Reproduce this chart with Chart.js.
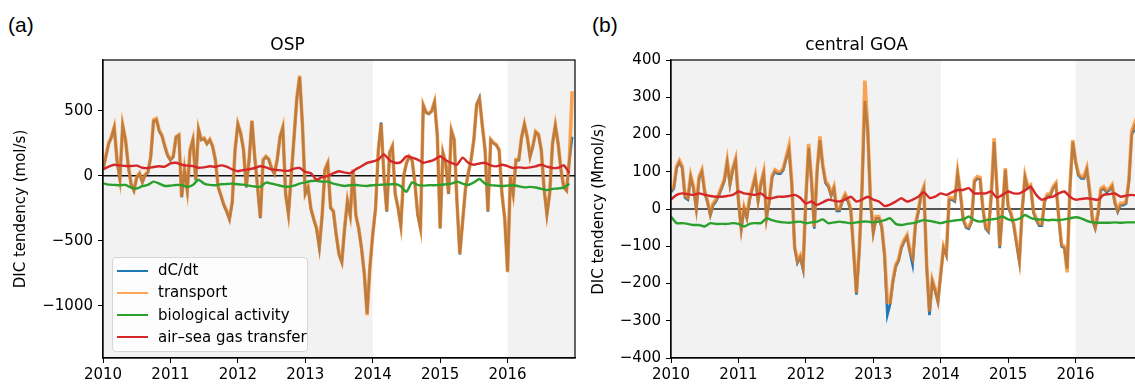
<!DOCTYPE html>
<html>
<head>
    <title>DIC tendency</title>
    <style>
        body {
            margin: 0;
            width: 1135px;
            height: 385px;
            overflow: hidden;
            position: relative;
            background: #fff;
            font-family: "DejaVu Sans", sans-serif;
        }

        canvas {
            position: absolute;
            top: 0;
        }

        .tag {
            position: absolute;
            top: 13px;
            font-family: "Liberation Sans", Arial, sans-serif;
            font-size: 21px;
            color: #000;
        }

        .legend {
            position: absolute;
            left: 112px;
            top: 257px;
            width: 194px;
            height: 93px;
            background: rgba(255, 255, 255, 0.8);
            border: 1px solid #d6d6d6;
            border-radius: 4px;
            font-size: 15px;
            color: #000;
        }

        .legend div {
            position: absolute;
            left: 4px;
            height: 22px;
            line-height: 22px;
            white-space: nowrap;
        }

        .legend span {
            display: inline-block;
            width: 31px;
            height: 2px;
            margin-right: 10px;
            vertical-align: middle;
        }
    </style>
    <script src="https://cdn.jsdelivr.net/npm/chart.js"></script>
</head>
<body>
    <div class="tag" style="left: 8px;">(a)</div>
    <div class="tag" style="left: 592px;">(b)</div>
    <canvas id="chartA" width="580" height="385" style="left: 0px;"></canvas>
    <canvas id="chartB" width="580" height="385" style="left: 570px;"></canvas>
    <div class="legend" id="legend"></div>

    <script>
        // time axis: transport / dC/dt sampled twice a month, red/green monthly
        const startYear = 2010;
        const fastPerYear = 24;
        const slowPerYear = 12;
        const xTicks = [2010, 2011, 2012, 2013, 2014, 2015, 2016];
        const shadeSpans = [[2010, 2014], [2016, 2017]];
        const seriesNames = ['dC/dt', 'transport', 'biological activity', 'air\u2013sea gas transfer'];

        // (a) OSP, mol/s
        const yTicksA = [-1000, -500, 0, 500];
        const transportA = [50, 150, 250, 300, 375, 120, -20, 390, 280, 80,
            -60, -110, -10, 20, -45, 10, 30, 150, 430, 440,
            350, 310, 230, 160, 125, 150, 300, 315, -160, 50,
            -110, 200, 280, -30, 360, 280, 290, 250, 280, 230,
            125, -85, -150, -220, -270, -330, -200, 200, 400, 330,
            205, -85, 125, 425, 150, -80, -320, 125, 150, 130,
            60, 20, 125, 300, 375, -136, -290, 0, 300, 600,
            770, 390, -136, -85, -250, -330, -400, -540, -300, 50,
            100, -240, -270, -450, -600, -660, -400, -190, -300, 50,
            -300, -400, -550, -750, -1070, -700, -450, -250, 200, 400,
            0, -270, 180, 230, -136, -240, -380, 0, 100, 150,
            125, -50, -290, -400, 545, 490, 480, 500, 570, 310,
            -400, 180, 100, -136, 350, 280, -200, -600, -350, -100,
            20, 125, 280, 550, 590, 390, 200, -270, 280, 255,
            240, 200, -136, -330, -740, 0, -136, 125, 125, 300,
            400, 300, 150, 230, 340, 320, 200, -100, -290, -130,
            250, 390, 250, 50, -85, -110, 125, 650];
        const dcdtA = [45, 145, 245, 295, 370, 115, -25, 385, 275, 75,
            -65, -115, -15, 15, -50, 5, 25, 145, 420, 430,
            345, 305, 225, 155, 120, 145, 295, 310, -165, 45,
            -115, 195, 275, -35, 355, 275, 285, 245, 275, 225,
            120, -90, -155, -225, -275, -335, -205, 195, 395, 325,
            200, -90, 120, 420, 145, -85, -325, 120, 145, 125,
            55, 15, 120, 295, 370, -140, -295, -5, 295, 595,
            760, 385, -140, -90, -255, -335, -405, -555, -305, 45,
            95, -250, -275, -455, -605, -665, -405, -195, -305, 45,
            -305, -405, -555, -755, -1060, -705, -455, -255, 195, 410,
            -5, -275, 175, 225, -140, -245, -385, -5, 95, 145,
            120, -55, -300, -405, 540, 485, 475, 495, 565, 305,
            -405, 175, 95, -140, 345, 275, -205, -605, -355, -105,
            15, 120, 275, 545, 600, 385, 195, -275, 275, 250,
            235, 195, -140, -335, -735, -5, -140, 120, 120, 295,
            395, 295, 145, 225, 335, 315, 195, -105, -300, -135,
            245, 385, 245, 45, -90, -115, 120, 300];
        const bioA = [-58, -68, -70, -72, -70, -90, -97, -80, -70, -45, -60, -78,
            -75, -70, -72, -84, -70, -30, -60, -70, -72, -65, -63, -60,
            -65, -68, -75, -82, -84, -52, -60, -70, -80, -84, -75, -60,
            -50, -40, -38, -45, -45, -60, -70, -78, -72, -70, -75, -78,
            -72, -70, -68, -66, -63, -80, -123, -50, -70, -75, -72, -72,
            -70, -65, -60, -45, -60, -70, -50, -24, -60, -72, -75, -78,
            -75, -72, -80, -89, -85, -90, -100, -110, -100, -97, -90, -60];
        const airSeaA = [50, 70, 85, 80, 75, 75, 78, 62, 60, 68, 73, 70,
            95, 100, 85, 78, 75, 62, 65, 73, 70, 80, 70, 50,
            35, 45, 50, 60, 73, 65, 50, 45, 40, 38, 55, 60,
            30, 20, -30, -10, 0, 20, 35, 25, 20, 50, 73, 100,
            110, 125, 165, 120, 100, 105, 150, 140, 125, 100, 110, 125,
            150, 120, 100, 85, 140, 100, 85, 95, 100, 80, 73, 85,
            75, 60, 65, 60, 65, 73, 85, 70, 60, 62, 80, 20];

        // (b) central GOA, Mmol/s
        const yTicksB = [-400, -300, -200, -100, 0, 100, 200, 300, 400];
        const transportB = [50, 60, 115, 130, 115, 35, 30, 90, 60, 5,
            87, 105, 48, 22, -12, 15, 25, 40, 60, 80,
            130, 70, 110, 135, 25, -50, 5, -20, 30, 60,
            90, 25, 70, 100, -20, 25, 90, 105, 100, 100,
            110, 140, 170, 70, -100, -140, -125, -155, 30, 175,
            80, -48, 105, 195, 120, 75, 65, 40, 60, 0,
            0, 25, 40, 25, 0, -110, -225, -110, 60, 345,
            220, 25, -60, -20, -20, -45, -120, -250, -250, -190,
            -150, -135, -100, -83, -70, -110, -130, -40, -5, 40,
            60, -150, -275, -190, -215, -245, -173, -100, -120, 30,
            30, 25, 100, 45, -25, -45, -48, -30, 78, 87,
            85, 5, -48, -57, 40, 190, 60, -100, 0, 110,
            10, -10, -40, -90, -137, 0, 90, 60, 65, -5,
            -25, -40, -40, 25, 40, 40, 60, 70, -20, -95,
            -100, -170, 60, 185, 130, 95, 87, 87, 110, 50,
            -25, -48, -10, 55, 60, 50, 55, 65, 20, -3,
            15, 15, 20, 80, 210, 230, 200, 180];
        const dcdtB = [45, 55, 110, 125, 110, 30, 25, 85, 55, 0,
            82, 100, 43, 17, -17, 10, 20, 35, 55, 75,
            125, 65, 105, 130, 20, -55, 0, -25, 25, 55,
            85, 20, 65, 95, -25, 20, 85, 100, 95, 95,
            105, 135, 160, 65, -105, -145, -130, -162, 25, 165,
            75, -53, 100, 185, 115, 70, 60, 35, 55, -5,
            -5, 20, 35, 20, -5, -115, -230, -115, 55, 290,
            215, 20, -65, -25, -25, -50, -125, -285, -255, -195,
            -155, -140, -105, -88, -75, -115, -150, -45, -10, 35,
            55, -155, -285, -195, -220, -250, -178, -105, -125, 25,
            25, 20, 95, 40, -30, -50, -53, -35, 73, 82,
            80, 0, -53, -62, 35, 180, 55, -105, -5, 105,
            5, -15, -45, -95, -142, -5, 85, 55, 60, -10,
            -30, -45, -45, 20, 35, 35, 55, 65, -25, -100,
            -105, -160, 55, 180, 125, 90, 82, 82, 105, 45,
            -30, -53, -15, 50, 55, 45, 50, 60, 15, -8,
            10, 10, 15, 75, 200, 220, 190, 170];
        const bioB = [-20, -38, -38, -40, -43, -43, -47, -38, -40, -40, -40, -38,
            -40, -47, -40, -38, -38, -25, -30, -34, -36, -37, -35, -34,
            -38, -36, -34, -28, -38, -36, -34, -36, -38, -36, -34, -34,
            -36, -34, -30, -25, -40, -43, -40, -38, -34, -30, -32, -35,
            -38, -34, -32, -30, -28, -20, -30, -34, -30, -28, -26, -20,
            -28, -30, -26, -16, -24, -28, -28, -30, -29, -30, -28, -25,
            -22, -25, -32, -36, -37, -37, -37, -36, -37, -36, -36, -36];
        const airSeaB = [25, 38, 42, 40, 38, 42, 38, 35, 33, 33, 35, 38,
            47, 42, 40, 38, 42, 30, 29, 33, 33, 35, 38, 30,
            15, 20, 11, 18, 25, 22, 20, 25, 33, 20, 25, 33,
            25, 20, 8, 12, 20, 29, 20, 25, 33, 45, 30, 33,
            42, 38, 45, 51, 51, 56, 42, 42, 42, 47, 30, 38,
            47, 42, 42, 50, 60, 38, 25, 30, 33, 42, 47, 33,
            25, 27, 29, 27, 25, 38, 40, 42, 33, 36, 38, 36];

        const colors = ['#1f77b4', 'rgba(255, 127, 14, 0.7)', '#2ca02c', '#d62728'];

        function toPoints(values, perYear) {
            return values.map((v, i) => ({ x: startYear + i / perYear, y: v }));
        }

        function minusSign(v) {
            return v < 0 ? '\u2212' + Math.abs(v) : String(v);
        }

        // shading, zero line and the full frame
        const panelDecor = {
            id: 'panelDecor',
            beforeDraw(chart) {
                const { ctx, chartArea: a, scales: { x } } = chart;
                ctx.save();
                ctx.fillStyle = '#f2f2f2';
                shadeSpans.forEach(s => {
                    const x0 = Math.max(a.left, x.getPixelForValue(s[0]));
                    const x1 = Math.min(a.right, x.getPixelForValue(s[1]));
                    ctx.fillRect(x0, a.top, x1 - x0, a.height);
                });
                ctx.restore();
            },
            beforeDatasetsDraw(chart, args, opts) {
                const { ctx, chartArea: a, scales: { y } } = chart;
                const y0 = y.getPixelForValue(0);
                ctx.save();
                ctx.strokeStyle = opts.zeroColor;
                ctx.lineWidth = opts.zeroWidth;
                ctx.beginPath();
                ctx.moveTo(a.left, y0);
                ctx.lineTo(a.right, y0);
                ctx.stroke();
                ctx.restore();
            },
            afterDraw(chart) {
                const { ctx, chartArea: a } = chart;
                ctx.save();
                ctx.strokeStyle = '#000';
                ctx.lineWidth = 1.2;
                ctx.strokeRect(a.left, a.top, a.right - a.left, a.bottom - a.top);
                ctx.restore();
            }
        };

        Chart.defaults.font.family = '"DejaVu Sans", sans-serif';
        Chart.defaults.font.size = 15;
        Chart.defaults.color = '#000';

        function makePanel(id, p) {
            const datasets = [
                { label: seriesNames[0], data: toPoints(p.dcdt, fastPerYear), borderColor: colors[0], borderWidth: 2.6, order: 3 },
                { label: seriesNames[1], data: toPoints(p.transport, fastPerYear), borderColor: colors[1], borderWidth: 3.6, order: 2 },
                { label: seriesNames[2], data: toPoints(p.bio, slowPerYear), borderColor: colors[2], borderWidth: 2.4, tension: 0.2, order: 1 },
                { label: seriesNames[3], data: toPoints(p.airSea, slowPerYear), borderColor: colors[3], borderWidth: 2.4, tension: 0.2, order: 0 }
            ];

            return new Chart(document.getElementById(id), {
                type: 'line',
                data: { datasets: datasets },
                options: {
                    responsive: false,
                    animation: false,
                    parsing: false,
                    elements: { point: { radius: 0 }, line: { tension: 0 } },
                    layout: { padding: { left: 0, right: p.padRight, top: 0, bottom: 0 } },
                    plugins: {
                        legend: { display: false },
                        tooltip: { enabled: false },
                        title: {
                            display: true,
                            text: p.title,
                            font: { size: 17, weight: 'normal' },
                            padding: { top: 35, bottom: 4.6 }
                        },
                        panelDecor: { zeroColor: p.zeroColor, zeroWidth: p.zeroWidth }
                    },
                    scales: {
                        x: {
                            type: 'linear',
                            min: 2010,
                            max: 2017,
                            afterBuildTicks: s => { s.ticks = xTicks.map(v => ({ value: v })); },
                            afterFit: s => { s.height = 27; },
                            ticks: { callback: v => String(v), maxRotation: 0, autoSkip: false, padding: 3 },
                            grid: { drawOnChartArea: false, tickLength: 5, color: '#000' },
                            border: { color: '#000', width: 1.2 }
                        },
                        y: {
                            min: p.yMin,
                            max: p.yMax,
                            afterBuildTicks: s => { s.ticks = p.yTicks.map(v => ({ value: v })); },
                            afterFit: s => { s.width = p.yWidth; },
                            ticks: { callback: minusSign, padding: 5 },
                            grid: { drawOnChartArea: false, tickLength: 5, color: '#000' },
                            border: { color: '#000', width: 1.2 },
                            title: {
                                display: true,
                                text: p.yTitle,
                                font: { size: 15 },
                                padding: { top: p.yTitlePad, bottom: 0 }
                            }
                        }
                    }
                },
                plugins: [panelDecor]
            });
        }

        const chartA = makePanel('chartA', {
            title: 'OSP', yTitle: 'DIC tendency (mol/s)',
            dcdt: dcdtA, transport: transportA, bio: bioA, airSea: airSeaA,
            yMin: -1400, yMax: 890, yTicks: yTicksA,
            yWidth: 103, yTitlePad: 12, padRight: 5,
            zeroColor: '#111', zeroWidth: 1.4
        });

        makePanel('chartB', {
            title: 'central GOA', yTitle: 'DIC tendency (Mmol/s)',
            dcdt: dcdtB, transport: transportB, bio: bioB, airSea: airSeaB,
            yMin: -400, yMax: 400, yTicks: yTicksB,
            yWidth: 101, yTitlePad: 20, padRight: 7,
            zeroColor: '#555', zeroWidth: 2
        });

        // legend drawn from panel (a) datasets
        const legend = document.getElementById('legend');
        chartA.data.datasets.forEach((ds, i) => {
            const row = document.createElement('div');
            row.style.top = (i * 22.3 + 1) + 'px';
            row.innerHTML = '<span style="background:' + ds.borderColor + '"></span>' + ds.label;
            legend.appendChild(row);
        });
    </script>
</body>
</html>
